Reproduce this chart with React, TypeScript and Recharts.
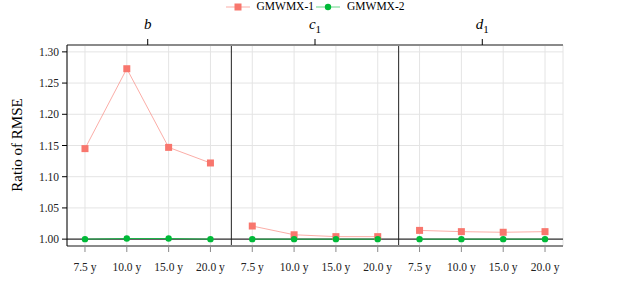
import { LineChart, Line, XAxis, YAxis, CartesianGrid, ReferenceLine } from 'recharts';

const panels = ['b', 'c1', 'd1'];
const horizons = ['7.5 y', '10.0 y', '15.0 y', '20.0 y'];

// ratio of RMSE per panel, one value per horizon
const gmwmx1B = [1.145, 1.273, 1.147, 1.122];
const gmwmx1C1 = [1.021, 1.007, 1.004, 1.004];
const gmwmx1D1 = [1.014, 1.012, 1.011, 1.012];
const gmwmx2B = [1.0, 1.001, 1.001, 1.0];
const gmwmx2C1 = [1.0, 1.0, 1.0, 1.0];
const gmwmx2D1 = [1.0, 1.0, 1.0, 1.0];

const yTicks = [1.0, 1.05, 1.1, 1.15, 1.2, 1.25, 1.3];

const RED = '#F8766D';
const GREEN = '#00BA38';
const FONT = "'Liberation Serif', 'DejaVu Serif', serif";

const series1 = [gmwmx1B, gmwmx1C1, gmwmx1D1];
const series2 = [gmwmx2B, gmwmx2C1, gmwmx2D1];

const data: any[] = [];
panels.forEach((p, pi) => {
  horizons.forEach((h, hi) => {
    const row: any = { x: pi * 4 + hi, label: h };
    row['g1_' + p] = series1[pi][hi];
    row['g2_' + p] = series2[pi][hi];
    data.push(row);
  });
});

const SquareDot = (props: any) => {
  const { cx, cy, key } = props;
  if (cx == null || cy == null) return <g key={key} />;
  return <rect key={key} x={cx - 3.5} y={cy - 3.5} width={7} height={7} fill={RED} />;
};

const CircleDot = (props: any) => {
  const { cx, cy, key } = props;
  if (cx == null || cy == null) return <g key={key} />;
  return <circle key={key} cx={cx} cy={cy} r={3.2} fill={GREEN} />;
};

const PanelTitle = (props: any) => {
  const { x, y, payload } = props;
  const name = panels[Math.round((payload.value - 1.5) / 4)];
  const base = name.charAt(0);
  const sub = name.slice(1);
  return (
    <text x={x} y={y - 8} textAnchor="middle" style={{ fontFamily: FONT }} fontSize={15} fontStyle="italic" fill="#000">
      {base}
      {sub && (
        <tspan fontStyle="normal" fontSize={11} dy={4}>
          {sub}
        </tspan>
      )}
    </text>
  );
};

const BottomTick = (props: any) => {
  const { x, y, payload } = props;
  return (
    <text x={x} y={y + 19} textAnchor="middle" style={{ fontFamily: FONT }} fontSize={11.5} fill="#222">
      {horizons[payload.value % 4]}
    </text>
  );
};

const LeftTick = (props: any) => {
  const { x, y, payload } = props;
  return (
    <text x={x} y={y + 4} textAnchor="end" style={{ fontFamily: FONT }} fontSize={11.5} fill="#222">
      {payload.value.toFixed(2)}
    </text>
  );
};

const YLabel = () => (
  <text
    x={22}
    y={145}
    transform="rotate(-90 22 145)"
    textAnchor="middle"
    style={{ fontFamily: FONT }}
    fontSize={15}
    fill="#000"
  >
    Ratio of RMSE
  </text>
);

export default function App() {
  return (
    <div style={{ position: 'fixed', top: 0, left: 0, width: 630, height: 300, background: '#fff', fontFamily: FONT }}>
      <div
        style={{
          position: 'absolute',
          top: 0,
          left: 0,
          width: 630,
          display: 'flex',
          justifyContent: 'center',
          fontFamily: FONT,
          fontSize: 11.5,
          lineHeight: '13px',
          zIndex: 2,
        }}
      >
        <div style={{ display: 'flex', alignItems: 'center' }}>
          <svg width={24} height={12}>
            <line x1={0} y1={6} x2={24} y2={6} stroke={RED} strokeOpacity={0.6} />
            <rect x={8.5} y={2.5} width={7} height={7} fill={RED} />
          </svg>
          <span style={{ marginLeft: 7, marginRight: 2 }}>GMWMX-1</span>
          <svg width={24} height={12}>
            <line x1={0} y1={6} x2={24} y2={6} stroke={GREEN} strokeOpacity={0.6} />
            <circle cx={12} cy={6} r={3.2} fill={GREEN} />
          </svg>
          <span style={{ marginLeft: 7 }}>GMWMX-2</span>
        </div>
      </div>
      <LineChart
        width={630}
        height={300}
        data={data}
        margin={{ top: 15, right: 67, bottom: 24, left: 10 }}
        style={{ fontFamily: FONT }}
      >
        <CartesianGrid stroke="#e4e4e4" />
        <XAxis
          dataKey="x"
          type="number"
          height={30}
          domain={[-0.43, 11.43]}
          ticks={[0, 1, 2, 3, 4, 5, 6, 7, 8, 9, 10, 11]}
          axisLine={{ stroke: '#8a8a8a', strokeWidth: 2 }}
          tickLine={{ stroke: '#8a8a8a' }}
          tickSize={6}
          tickMargin={0}
          tick={<BottomTick />}
          allowDataOverflow
        />
        <XAxis
          xAxisId="top"
          orientation="top"
          dataKey="x"
          type="number"
          height={30}
          domain={[-0.43, 11.43]}
          ticks={[1.5, 5.5, 9.5]}
          axisLine={{ stroke: '#8a8a8a', strokeWidth: 2 }}
          tickLine={{ stroke: '#000' }}
          tickSize={6}
          tick={<PanelTitle />}
          allowDataOverflow
        />
        <YAxis
          width={57}
          domain={[0.989, 1.311]}
          ticks={yTicks}
          axisLine={{ stroke: '#000' }}
          tickLine={{ stroke: '#000' }}
          tickSize={5}
          tickMargin={3}
          tick={<LeftTick />}
          allowDataOverflow
          label={<YLabel />}
        />
        <YAxis yAxisId="right" orientation="right" width={0} tick={false} tickLine={false} axisLine={{ stroke: '#000' }} />
        <ReferenceLine y={1} stroke="#333" strokeWidth={1.2} />
        <ReferenceLine x={3.5} stroke="#222" />
        <ReferenceLine x={7.5} stroke="#222" />
        {panels.map((p) => (
          <Line
            key={'g1_' + p}
            dataKey={'g1_' + p}
            stroke={RED}
            strokeOpacity={0.6}
            strokeWidth={1}
            dot={<SquareDot />}
            activeDot={false}
            isAnimationActive={false}
          />
        ))}
        {panels.map((p) => (
          <Line
            key={'g2_' + p}
            dataKey={'g2_' + p}
            stroke={GREEN}
            strokeOpacity={0.8}
            strokeWidth={1}
            dot={<CircleDot />}
            activeDot={false}
            isAnimationActive={false}
          />
        ))}
      </LineChart>
    </div>
  );
}
